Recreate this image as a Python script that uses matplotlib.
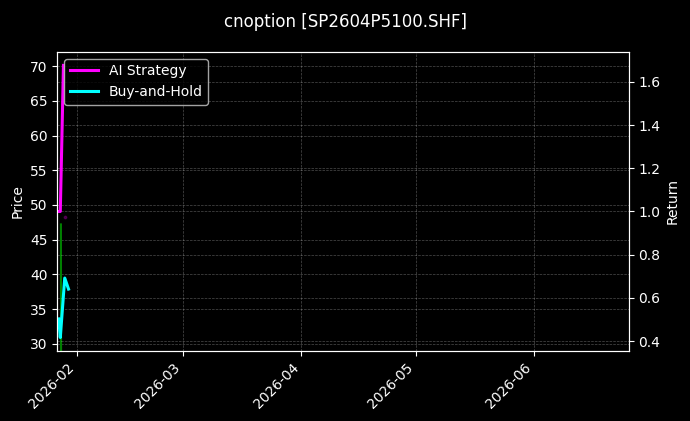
import numpy as np
import pandas as pd
import matplotlib
matplotlib.use("Agg")
import matplotlib.pyplot as plt
import matplotlib.dates as mdates

plt.style.use("dark_background")

# price series (nearly vertical, all within one day)
price_dates = pd.to_datetime(["2026-01-27 21:00", "2026-01-27 22:00"])
price_values = [47.2, 28.0]

# trade marker
signal_dates = pd.to_datetime(["2026-01-28 21:00"])
signal_values = [48.2]

# strategy returns
ai_dates = pd.to_datetime(["2026-01-27 07:00", "2026-01-27 17:00",
                           "2026-01-28 13:00"])
ai_values = [1.0, 1.0, 1.676]

bh_dates = pd.to_datetime(["2026-01-27 07:00", "2026-01-27 17:00",
                           "2026-01-28 21:00", "2026-01-29 21:00"])
bh_values = [0.503, 0.417, 0.692, 0.641]

fig = plt.figure(figsize=(6.9, 4.21), dpi=100)
ax = fig.add_axes([0.083, 0.166, 0.828, 0.711])
ax.set_facecolor("black")

ax.plot(price_dates, price_values, color="green", linewidth=1.5)
ax.scatter(signal_dates, signal_values, color="#800080", s=3, alpha=0.5)
ax.set_ylabel("Price")
ax.set_ylim(28.95, 72.06)
ax.grid(True, linestyle="--", linewidth=0.5, alpha=0.3)

ax2 = ax.twinx()
ax2.plot(ai_dates, ai_values, color="magenta", linewidth=2.2, label="AI Strategy")
ax2.plot(bh_dates, bh_values, color="cyan", linewidth=2.2, label="Buy-and-Hold")
ax2.set_ylabel("Return")
ax2.set_ylim(0.354, 1.739)
ax2.grid(True, linestyle="--", linewidth=0.5, alpha=0.3)
ax2.legend(loc="upper left")

ax.set_xlim(pd.Timestamp("2026-01-26 22:00"), pd.Timestamp("2026-06-25 22:00"))
ax.xaxis.set_major_locator(mdates.MonthLocator())
ax.xaxis.set_major_formatter(mdates.DateFormatter("%Y-%m"))
plt.setp(ax.get_xticklabels(), rotation=45, ha="right")

fig.suptitle("cnoption [SP2604P5100.SHF]", y=0.97)

fig.savefig("out.png", dpi=100, facecolor="black")
